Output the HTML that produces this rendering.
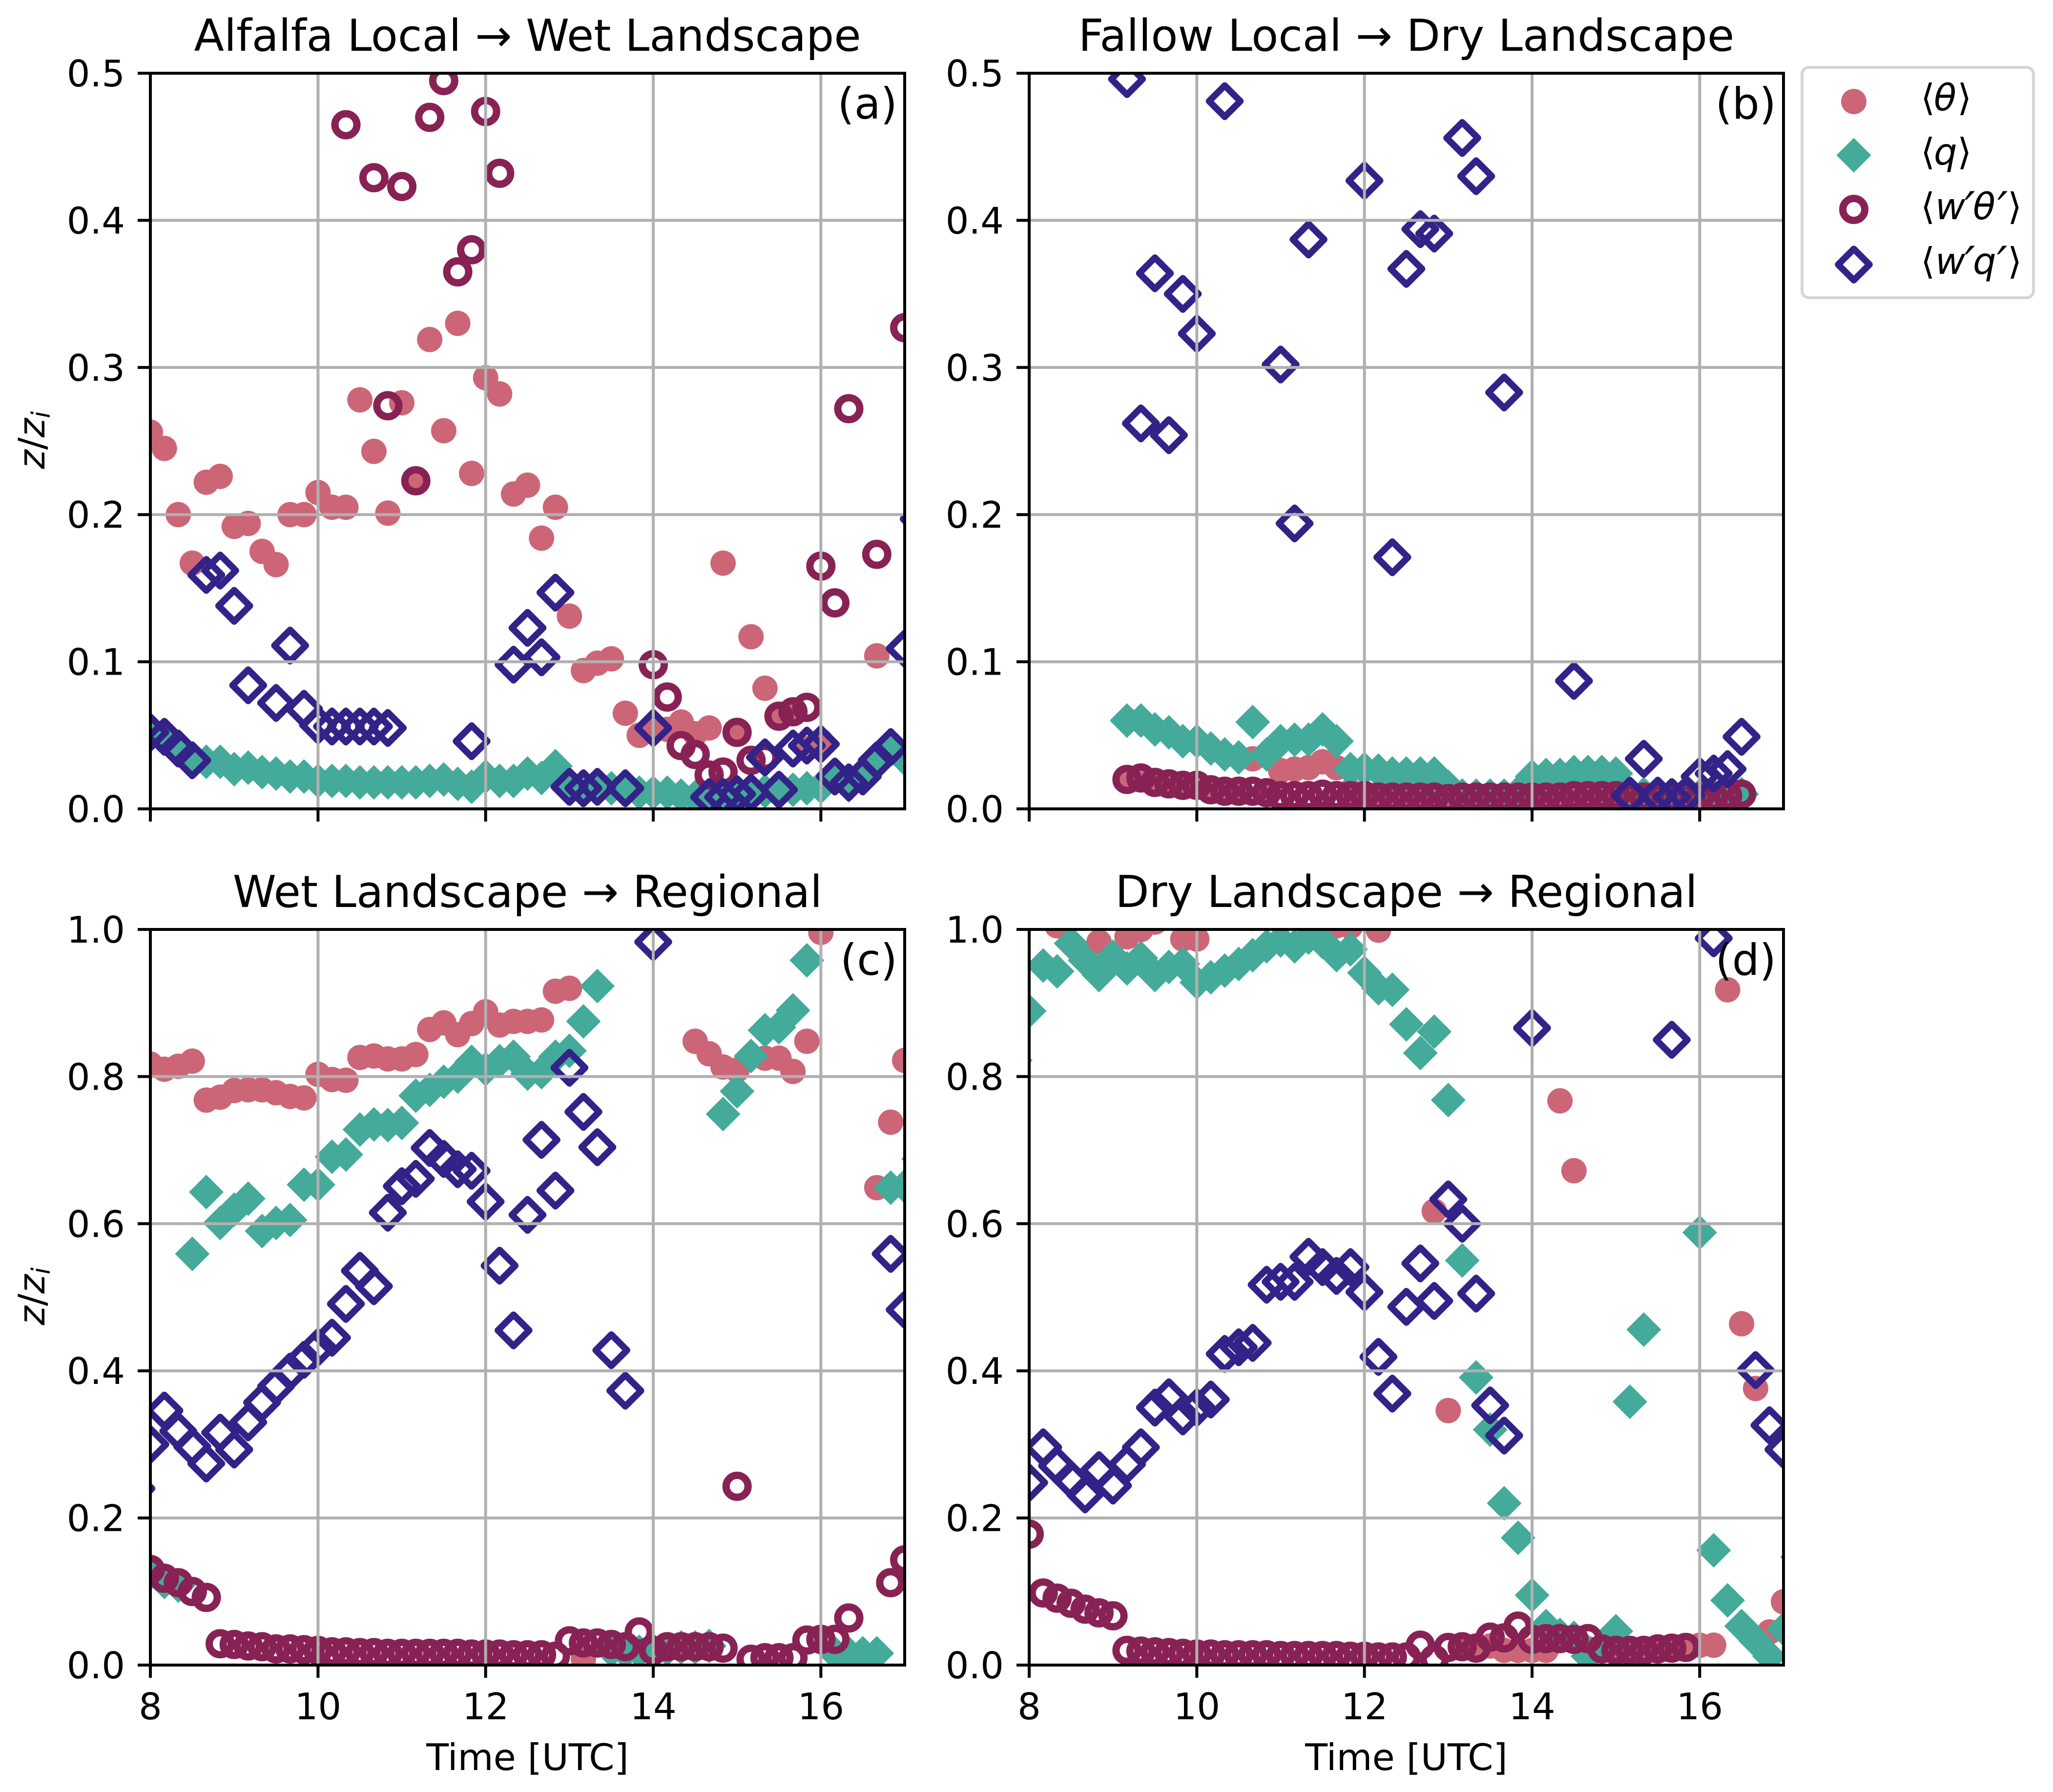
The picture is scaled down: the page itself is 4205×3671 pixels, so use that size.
<!DOCTYPE html>
<html lang="en">
<head>
<meta charset="utf-8">
<title>Flux and scalar scatter panels</title>
<style>
html,body{margin:0;padding:0;background:#fff;}
svg{display:block;}
text{font-family:"DejaVu Sans","Liberation Sans",sans-serif;fill:#000;}
</style>
</head>
<body>
<svg id="chart" xmlns="http://www.w3.org/2000/svg" width="4205" height="3671" viewBox="0 0 4205 3671">
  <rect x="0" y="0" width="4205" height="3671" fill="#ffffff"/>
  <g id="panels"></g>
  <g>
    <rect x="3691" y="138" width="474" height="472" rx="14" ry="14" fill="#fff" stroke="#d5d5d5" stroke-width="6"/>
    <circle cx="3797" cy="208" r="26" fill="#CC6677"/>
    <path d="M3797 282.500L3832.500 318L3797 353.500L3761.500 318Z" fill="#44AA99"/>
    <circle cx="3797" cy="429" r="22.500" fill="none" stroke="#882255" stroke-width="15"/>
    <path d="M3797 510L3829 542L3797 574L3765 542Z" fill="none" stroke="#332288" stroke-width="13.500" stroke-linejoin="round"/>
    <text y="226" font-size="75"><tspan x="3934">⟨</tspan><tspan x="3961" font-style="italic">θ</tspan><tspan x="4009">⟩</tspan></text>
    <text y="337" font-size="75"><tspan x="3934">⟨</tspan><tspan x="3961" font-style="italic">q</tspan><tspan x="4009">⟩</tspan></text>
    <text y="449" font-size="75"><tspan x="3934">⟨</tspan><tspan x="3964" font-style="italic">w</tspan><tspan x="4024" y="461" font-size="95" font-style="italic">′</tspan><tspan x="4041" y="449" font-style="italic">θ</tspan><tspan x="4091" y="461" font-size="95" font-style="italic">′</tspan><tspan x="4112" y="449">⟩</tspan></text>
    <text y="561" font-size="75"><tspan x="3934">⟨</tspan><tspan x="3964" font-style="italic">w</tspan><tspan x="4024" y="573" font-size="95" font-style="italic">′</tspan><tspan x="4041" y="561" font-style="italic">q</tspan><tspan x="4090" y="573" font-size="95" font-style="italic">′</tspan><tspan x="4112" y="561">⟩</tspan></text>
  </g>
</svg>
<script>
// ---- shared axis data ----
const times = [7.833,
  8,8.167,8.333,8.5,8.667,8.833,9,9.167,9.333,9.5,
  9.667,9.833,10,10.167,10.333,10.5,10.667,10.833,11,11.167,
  11.333,11.5,11.667,11.833,12,12.167,12.333,12.5,12.667,12.833,
  13,13.167,13.333,13.5,13.667,13.833,14,14.167,14.333,14.5,
  14.667,14.833,15,15.167,15.333,15.5,15.667,15.833,16,16.167,
  16.333,16.5,16.667,16.833,17,17.167];
const xTickLabels = ["8","10","12","14","16"];
const xTickValues = [8,10,12,14,16];
const yTickValuesUpper = [0,0.1,0.2,0.3,0.4,0.5];
const yTickLabelsUpper = ["0.0","0.1","0.2","0.3","0.4","0.5"];
const yTickValuesLower = [0,0.2,0.4,0.6,0.8,1.0];
const yTickLabelsLower = ["0.0","0.2","0.4","0.6","0.8","1.0"];

// ---- panel (a) Alfalfa Local -> Wet Landscape ----
const thetaA = [null,
  .256,.245,.200,.167,.222,.226,.192,.194,.175,.166,
  .200,.200,.215,.205,.205,.278,.243,.201,.276,.223,
  .319,.257,.330,.228,.293,.282,.214,.220,.184,.205,
  .131,.094,.099,.102,.065,.050,.054,.054,.059,.051,
  .055,.167,.052,.117,.082,.063,.065,.041,.046,null,
  null,null,.104,null,null,null];
const qA = [null,
  .050,.048,.042,.033,.032,.032,.027,.028,.025,.024,
  .022,.022,.019,.019,.019,.018,.018,.018,.018,.018,
  .019,.020,.017,.015,.022,.019,.019,.024,.021,.029,
  .015,.014,.015,.014,.014,.011,.011,.011,.009,.008,
  .008,.009,.008,.010,.012,.013,.013,.014,.015,.021,
  .016,.024,.034,.042,.034,null];
const wThetaA = [null,
  null,null,null,null,null,null,null,null,null,null,
  null,null,null,null,.465,null,.429,.274,.423,.223,
  .470,.495,.365,.380,.474,.432,null,null,null,null,
  null,null,null,null,null,null,.098,.076,.043,.037,
  .023,.025,.052,.033,.035,.063,.066,.069,.165,.140,
  .272,null,.173,null,.327,null];
const wQA = [null,
  .052,.049,.041,.033,.159,.162,.138,.084,null,.072,
  .111,.068,.057,.056,.056,.056,.056,.055,null,null,
  null,null,null,.046,null,null,.098,.123,.103,.147,
  .015,.014,.015,null,.014,null,.055,null,null,null,
  .008,.008,.010,.011,.035,.013,.041,.043,.044,.022,
  .018,.022,.033,.042,.109,.197];

// ---- panel (b) Fallow Local -> Dry Landscape ----
const thetaB = [null,
  null,null,null,null,null,null,null,.020,.020,.018,
  .017,.016,.016,.013,.012,.012,.034,.012,.026,.027,
  .028,.032,.028,.012,.010,.010,.009,.009,.009,.009,
  .008,.008,.008,.008,.008,.008,.008,.008,.008,.008,
  .008,.008,.008,.008,.008,.008,.008,.008,.008,.008,
  .008,.010,null,null,null,null];
const qB = [null,
  null,null,null,null,null,null,null,.060,.060,.054,
  .052,.046,.046,.041,.037,.035,.059,.037,.046,.047,
  .047,.054,.046,.027,.027,.026,.024,.024,.024,.024,
  .015,.009,.009,.009,.009,.011,.022,.023,.023,.025,
  .025,.025,.024,.010,.010,.010,.009,.009,.009,.009,
  .009,.010,null,null,null,null];
const wThetaB = [null,
  null,null,null,null,null,null,null,.020,.021,.018,
  .017,.016,.016,.013,.012,.012,.012,.011,.009,.009,
  .009,.010,.009,.009,.009,.008,.008,.008,.008,.008,
  .007,.008,.008,.008,.008,.008,.008,.008,.008,.009,
  .009,.009,.009,.008,.008,.008,.008,.008,.008,.008,
  .009,.010,null,null,null,null];
const wQB = [null,
  null,null,null,null,null,null,null,.496,.262,.364,
  .254,.350,.323,null,.481,null,null,null,.302,.194,
  .387,null,null,null,.427,null,.171,.367,.394,.391,
  null,.456,.430,null,.283,null,null,null,null,.087,
  null,null,null,.009,.034,.009,.008,.009,.022,.024,
  .027,.049,null,null,null,null];

// ---- panel (c) Wet Landscape -> Regional ----
const thetaC = [null,
  .817,.810,.814,.821,.768,.772,.781,.782,.782,.778,
  .773,.771,.803,.796,.795,.826,.828,.824,.824,.830,
  .864,.873,.857,.872,.888,.870,.875,.875,.877,.916,
  .920,.008,null,null,null,null,null,null,null,.848,
  .831,.813,.809,null,.825,.825,.807,.848,.996,null,
  null,null,.649,.738,.822,null];
const qC = [null,
  .125,.113,.108,.559,.643,.601,.619,.634,.590,.601,
  .605,.653,.653,.691,.694,.728,.735,.734,.737,.774,
  .782,.793,.800,.820,.810,.821,.827,.804,.806,.827,
  .835,.875,.923,.020,.018,.018,.020,.022,.024,.024,
  .026,.749,.780,.828,.863,.867,.890,.958,null,.016,
  .016,.016,.016,.649,.651,.688];
const wThetaC = [null,
  .130,.118,.112,.100,.092,.029,.028,.026,.025,.022,
  .022,.021,.020,.018,.018,.017,.017,.016,.016,.016,
  .016,.016,.016,.015,.015,.015,.014,.014,.014,.012,
  .033,.030,.030,.028,.025,.045,.020,.025,.025,.025,
  .025,.023,.243,.008,.010,.010,.010,.034,.035,.035,
  .064,null,null,.112,.143,null];
const wQC = [.240,
  .300,.346,.318,.297,.274,.316,.293,.330,.357,.379,
  .399,.415,.432,.445,.491,.536,.515,.615,.651,.661,
  .703,.688,.674,.672,.630,.543,.455,.612,.714,.645,
  .812,.752,.704,.428,.373,null,.983,null,null,null,
  null,null,null,null,null,null,null,null,null,null,
  null,null,null,.559,.483,null];

// ---- panel (d) Dry Landscape -> Regional ----
const thetaD = [null,
  null,null,1.005,null,null,.983,null,.990,1.000,1.010,
  null,.987,.987,null,null,null,1.015,null,null,null,
  null,null,1.005,1.004,null,.999,null,null,null,.617,
  .346,.026,.026,.026,.020,.020,.020,.020,.767,.672,
  .022,.022,.022,.022,.022,.022,.022,.025,.027,.027,
  .918,.464,.376,.045,.086,null];
const qD = [.822,
  .889,.951,.943,.981,.958,.938,.963,.947,.961,.938,
  .949,.953,.928,.935,.944,.953,.965,.977,.985,.977,
  .989,.983,.965,.973,.941,.920,.918,.871,.832,.861,
  .768,.550,.391,.320,.220,.173,.095,.053,.041,.037,
  .012,.024,.046,.358,.456,null,null,null,.588,.156,
  .088,.053,.033,.012,.049,.147];
const wThetaD = [null,
  .178,.098,.091,.084,.076,.071,.067,.020,.019,.018,
  .017,.016,.015,.015,.014,.014,.014,.014,.013,.013,
  .013,.013,.013,.012,.012,.011,.011,.011,.027,.008,
  .024,.025,.023,.038,.037,.053,.035,.036,.036,.035,
  .036,.022,.020,.020,.020,.022,.023,.024,null,null,
  null,null,null,null,null,null];
const wQD = [.265,
  .248,.296,.271,.252,.232,.265,.244,.273,.296,.350,
  .364,.338,.350,.361,.423,.432,.438,.517,.521,.521,
  .555,.541,.529,.541,.507,.419,.369,.487,.546,.495,
  .633,.600,.505,.353,.312,null,.866,null,null,null,
  null,null,null,null,null,null,.850,null,null,.988,
  null,null,.401,.326,.293,null];

const SVGNS = "http://www.w3.org/2000/svg";
const root = document.getElementById("panels");
const AX_W = 1545, AX_H = 1507, X_MIN = 8, X_MAX = 17;
const TICK_LEN = 26, LINE_W = 6, TICK_FONT = 75;

function make(tag, attrs, parent) {
  const el = document.createElementNS(SVGNS, tag);
  for (const k in attrs) el.setAttribute(k, attrs[k]);
  parent.appendChild(el);
  return el;
}

function drawCircleFilled(g, cx, cy) {
  const el = make("circle", {cx: cx, cy: cy, r: 26, fill: "#CC6677"}, g);
  
  
}
function drawDiamondFilled(g, cx, cy) {
  const d = 35.5;
  const el = make("path", {d: `M${cx} ${cy-d}L${cx+d} ${cy}L${cx} ${cy+d}L${cx-d} ${cy}Z`, fill: "#44AA99"}, g);
  
  
}
function drawCircleHollow(g, cx, cy) {
  const el = make("circle", {cx: cx, cy: cy, r: 22.5, fill: "none", stroke: "#882255", "stroke-width": 15}, g);
  
  
}
function drawDiamondHollow(g, cx, cy) {
  const d = 32;
  const el = make("path", {d: `M${cx} ${cy-d}L${cx+d} ${cy}L${cx} ${cy+d}L${cx-d} ${cy}Z`, fill: "none", stroke: "#332288", "stroke-width": 13.5, "stroke-linejoin": "round"}, g);
  
  
}

function drawPanel(p) {
  const xScale = t => p.left + (t - X_MIN) / (X_MAX - X_MIN) * AX_W;
  const yScale = v => p.top + AX_H * (1 - v / p.yMax);

  const g = make("g", {}, root);
  
  

  const bg = make("clipPath", {id: "clip-" + p.id}, g);
  make("rect", {x: p.left, y: p.top, width: AX_W, height: AX_H}, bg);

  const marks = make("g", {"clip-path": `url(#clip-${p.id})`}, g);
  
  
  const series = [[p.theta, drawCircleFilled], [p.q, drawDiamondFilled], [p.wTheta, drawCircleHollow], [p.wQ, drawDiamondHollow]];
  series.forEach(([values, draw]) => {
    values.forEach((v, i) => {
      if (v !== null) draw(marks, xScale(times[i]), yScale(v));
    });
  });

  // grid sits above the scatter markers
  const grid = make("g", {stroke: "#b0b0b0", "stroke-width": LINE_W}, g);
  
  
  xTickValues.forEach(t => {
    const ln = make("line", {x1: xScale(t), x2: xScale(t), y1: p.top, y2: p.top + AX_H}, grid);
    
    
  });
  p.yTicks.forEach(v => {
    const ln = make("line", {x1: p.left, x2: p.left + AX_W, y1: yScale(v), y2: yScale(v)}, grid);
    
    
  });

  // x ticks
  xTickValues.forEach((t, i) => {
    const tick = make("line", {x1: xScale(t), x2: xScale(t), y1: p.top + AX_H, y2: p.top + AX_H + TICK_LEN, stroke: "#000", "stroke-width": LINE_W}, g);
    
    
    if (p.showX) {
      const lab = make("text", {x: xScale(t), y: p.top + AX_H + 111, "font-size": TICK_FONT, "text-anchor": "middle"}, g);
      lab.textContent = xTickLabels[i];
      
      
    }
  });

  // y ticks
  p.yTicks.forEach((v, i) => {
    const tick = make("line", {x1: p.left - TICK_LEN, x2: p.left, y1: yScale(v), y2: yScale(v), stroke: "#000", "stroke-width": LINE_W}, g);
    
    
    const lab = make("text", {x: p.left - 52, y: yScale(v) + 27, "font-size": TICK_FONT, "text-anchor": "end"}, g);
    lab.textContent = p.yLabels[i];
    
    
  });

  // spines
  const frame = make("rect", {x: p.left, y: p.top, width: AX_W, height: AX_H, fill: "none", stroke: "#000", "stroke-width": LINE_W}, g);
  
  

  // title
  const title = make("text", {x: p.left + AX_W / 2, y: p.top - 46, "font-size": 90, "text-anchor": "middle"}, g);
  title.textContent = p.title;
  
  

  // panel letter
  const tag = make("text", {x: p.left + AX_W - 15, y: p.top + 93, "font-size": 88, "text-anchor": "end"}, g);
  tag.textContent = "(" + p.id + ")";
  
  

  if (p.showYTitle) {
    const cy = p.top + AX_H / 2;
    const yt = make("text", {transform: `translate(91 ${cy - 2}) rotate(-90)`, "font-size": TICK_FONT, "text-anchor": "middle"}, g);
    
    
    const a = make("tspan", {"font-style": "italic"}, yt); a.textContent = "z";
    const b = make("tspan", {}, yt); b.textContent = "/";
    const c = make("tspan", {"font-style": "italic"}, yt); c.textContent = "z";
    const d = make("tspan", {"font-style": "italic", "font-size": 52, dy: 11}, yt); d.textContent = "i";
  }
  if (p.showX) {
    const xt = make("text", {x: p.left + AX_W / 2, y: p.top + AX_H + 215, "font-size": 75, "text-anchor": "middle"}, g);
    xt.textContent = "Time [UTC]";
    
    
  }
}

drawPanel({id: "a", left: 308, top: 150, yMax: 0.5, title: "Alfalfa Local → Wet Landscape",
  yTicks: yTickValuesUpper, yLabels: yTickLabelsUpper, showX: false, showYTitle: true,
  theta: thetaA, q: qA, wTheta: wThetaA, wQ: wQA});
drawPanel({id: "b", left: 2108, top: 150, yMax: 0.5, title: "Fallow Local → Dry Landscape",
  yTicks: yTickValuesUpper, yLabels: yTickLabelsUpper, showX: false, showYTitle: false,
  theta: thetaB, q: qB, wTheta: wThetaB, wQ: wQB});
drawPanel({id: "c", left: 308, top: 1904, yMax: 1.0, title: "Wet Landscape → Regional",
  yTicks: yTickValuesLower, yLabels: yTickLabelsLower, showX: true, showYTitle: true,
  theta: thetaC, q: qC, wTheta: wThetaC, wQ: wQC});
drawPanel({id: "d", left: 2108, top: 1904, yMax: 1.0, title: "Dry Landscape → Regional",
  yTicks: yTickValuesLower, yLabels: yTickLabelsLower, showX: true, showYTitle: false,
  theta: thetaD, q: qD, wTheta: wThetaD, wQ: wQD});
</script>
</body>
</html>
